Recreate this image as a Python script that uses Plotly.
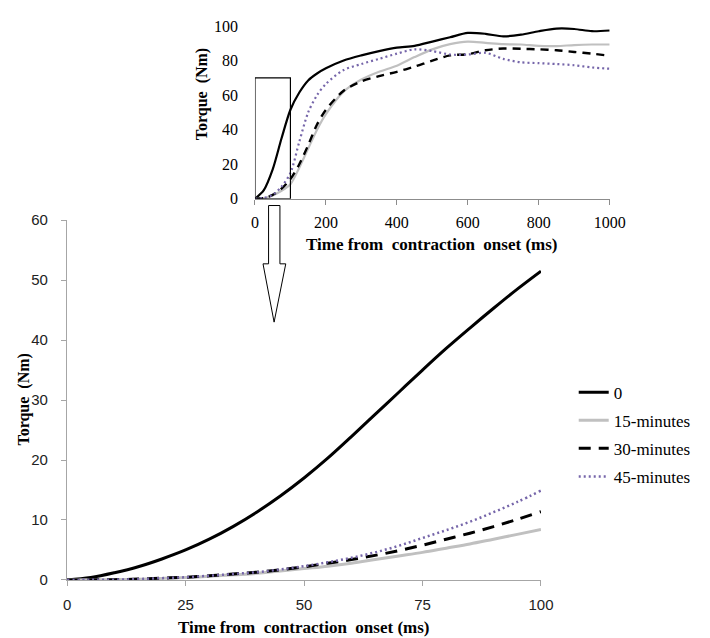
import plotly.graph_objects as go

W, H = 710, 638

# ---------------- data ----------------
series_names = ["0", "15-minutes", "30-minutes", "45-minutes"]

# zoomed panel: first 100 ms
t_zoom = [0, 5, 10, 15, 20, 25, 30, 35, 40, 45, 50, 55, 60, 65, 70, 75, 80, 85, 90, 95, 100]
zoom_0 = [0, 0.4, 1.2, 2.2, 3.5, 5.0, 6.8, 8.9, 11.3, 14.0, 17.0, 20.3, 23.9, 27.6, 31.3, 35.0, 38.6, 42.0, 45.3, 48.5, 51.5]
zoom_15 = [0, 0.02, 0.05, 0.12, 0.25, 0.4, 0.6, 0.85, 1.1, 1.5, 1.9, 2.3, 2.8, 3.4, 4.0, 4.6, 5.3, 6.0, 6.8, 7.6, 8.4]
zoom_30 = [0, 0.02, 0.05, 0.15, 0.3, 0.45, 0.7, 1.0, 1.3, 1.7, 2.2, 2.8, 3.4, 4.1, 4.9, 5.8, 6.8, 7.8, 8.9, 10.1, 11.4]
zoom_45 = [0, 0.02, 0.05, 0.15, 0.3, 0.45, 0.7, 1.0, 1.3, 1.75, 2.3, 2.95, 3.7, 4.6, 5.7, 7.0, 8.3, 9.7, 11.3, 13.0, 14.9]

# inset panel: full 1000 ms
t_full = [0, 25, 50, 75, 100, 125, 150, 175, 200, 250, 300, 350, 400, 450, 500,
          550, 600, 650, 700, 750, 800, 850, 900, 950, 1000]
full_0 = [0, 5.0, 17.0, 35.0, 51.5, 61.5, 68.5, 72.5, 75.5, 80, 83, 85.5, 87.5, 88.5, 91,
          93.5, 96, 95.5, 94, 95, 97, 98.5, 98.3, 97, 97.4]
full_15 = [0, 0.4, 1.9, 4.6, 8.4, 18, 29, 40, 49, 62, 69, 73.5, 77, 82, 86.5,
           89.5, 91, 90.3, 89.5, 89.3, 88.5, 88.4, 89, 89.3, 89.3]
full_30 = [0, 0.45, 2.2, 5.8, 11.4, 20, 31, 43, 51.5, 62.5, 68, 71, 73.5, 76.5, 80,
           83, 83.7, 86, 87, 86.8, 86.5, 86, 85, 84, 82.8]
full_45 = [0, 0.45, 2.3, 7.0, 14.9, 33, 50, 60, 66.5, 74.5, 78, 81, 84, 86.5, 85.5,
           83.5, 83.5, 84.5, 81, 79, 78.5, 78, 77.3, 76, 75.3]

x_ticks_zoom = [0, 25, 50, 75, 100]
y_ticks_zoom = [0, 10, 20, 30, 40, 50, 60]
x_ticks_full = [0, 200, 400, 600, 800, 1000]
y_ticks_full = [0, 20, 40, 60, 80, 100]
box_x = [0, 100]
box_y = [0, 70]

x_title = "Time from \u00a0contraction \u00a0onset (ms)"
y_title = "Torque \u00a0(Nm)"

# ---------------- styles ----------------
styles = [
    dict(color="#000000", width=3, dash="solid"),
    dict(color="#c0c0c0", width=3, dash="solid"),
    dict(color="#000000", width=3, dash="12px,8px"),
    dict(color="#7666aa", width=2.5, dash="2px,3px"),
]
styles_top = [
    dict(color="#000000", width=2.2, dash="solid"),
    dict(color="#c0c0c0", width=2.2, dash="solid"),
    dict(color="#000000", width=2.4, dash="8px,6px"),
    dict(color="#7666aa", width=2.2, dash="2px,3px"),
]

SERIF = "Liberation Serif, Times New Roman, serif"
SANS = "Liberation Sans, Arial, sans-serif"

fig = go.Figure()
zooms = [zoom_0, zoom_15, zoom_30, zoom_45]
fulls = [full_0, full_15, full_30, full_45]
for i, name in enumerate(series_names):
    fig.add_trace(go.Scatter(x=t_zoom, y=zooms[i], mode="lines", name=name,
                             line=dict(shape="spline", **styles[i]),
                             xaxis="x", yaxis="y", legendgroup=name))
for i, name in enumerate(series_names):
    fig.add_trace(go.Scatter(x=t_full, y=fulls[i], mode="lines", name=name,
                             line=dict(shape="spline", smoothing=0.8, **styles_top[i]),
                             xaxis="x2", yaxis="y2", showlegend=False))

def px(x):
    return x / W

def py(y):
    return (H - y) / H

axis_gray = "#a6a6a6"

fig.update_layout(
    width=W, height=H,
    margin=dict(l=0, r=0, t=0, b=0),
    paper_bgcolor="white", plot_bgcolor="rgba(0,0,0,0)",
    xaxis=dict(domain=[px(56.7), px(544.3)], range=[0, 100], tickvals=x_ticks_zoom,
               showgrid=False, zeroline=False, showline=True, linecolor=axis_gray,
               linewidth=1.3, ticks="outside", ticklen=5, tickcolor=axis_gray,
               tickfont=dict(family=SANS, size=15, color="#222"), anchor="y",
               ticklabelstandoff=6),
    yaxis=dict(domain=[py(579.3), py(209)], range=[0, 60], tickvals=y_ticks_zoom,
               showgrid=False, zeroline=False, showline=True, linecolor=axis_gray,
               linewidth=1.3, ticks="outside", ticklen=5, tickcolor=axis_gray,
               tickfont=dict(family=SANS, size=15, color="#222"), anchor="x",
               ticklabelstandoff=10),
    xaxis2=dict(domain=[px(250), px(615)], range=[0, 1000], tickvals=x_ticks_full,
                showgrid=False, zeroline=False, showline=True, linecolor="#8c8c8c",
                linewidth=1.2, ticks="outside", ticklen=5, tickcolor="#8c8c8c",
                tickfont=dict(family=SERIF, size=16, color="#000"), anchor="y2",
                ticklabelstandoff=4),
    yaxis2=dict(domain=[py(187), py(9.3)], range=[0, 100], tickvals=y_ticks_full,
                showgrid=False, zeroline=False, showline=False, ticks="",
                tickfont=dict(family=SERIF, size=16, color="#000"), anchor="x2",
                ticklabelstandoff=16),
    legend=dict(x=px(578), y=py(368), xanchor="left", yanchor="top",
                font=dict(family=SERIF, size=17, color="#000"),
                bgcolor="rgba(0,0,0,0)", traceorder="grouped", tracegroupgap=3,
                itemwidth=30),
    showlegend=True,
)

# axis titles
fig.add_annotation(text="<b>" + x_title + "</b>", xref="paper", yref="paper",
                   x=px(300.5), y=py(628), showarrow=False,
                   xanchor="center", yanchor="middle",
                   font=dict(family=SERIF, size=17, color="#000"))
fig.add_annotation(text="<b>" + y_title + "</b>", xref="paper", yref="paper",
                   x=px(12), y=py(394), showarrow=False, textangle=-90,
                   xanchor="center", yanchor="middle",
                   font=dict(family=SERIF, size=16, color="#000"))
fig.add_annotation(text="<b>" + x_title + "</b>", xref="paper", yref="paper",
                   x=px(432.5), y=py(234), showarrow=False,
                   xanchor="center", yanchor="middle",
                   font=dict(family=SERIF, size=17, color="#000"))
fig.add_annotation(text="<b>" + y_title + "</b>", xref="paper", yref="paper",
                   x=px(195), y=py(80), showarrow=False, textangle=-90,
                   xanchor="center", yanchor="middle",
                   font=dict(family=SERIF, size=16, color="#000"))

# zoom box on the inset
fig.add_shape(type="rect", xref="x2", yref="y2", x0=box_x[0], x1=box_x[1],
              y0=box_y[0], y1=box_y[1], line=dict(color="#000", width=1.2))

# hollow arrow
pts = [(264, 194), (275.7, 194), (275.7, 254), (281.7, 254), (269.7, 314),
       (258.3, 254), (264, 254)]
path = "M " + " L ".join(f"{px(x):.5f},{py(y):.5f}" for x, y in pts) + " Z"
fig.add_shape(type="path", xref="paper", yref="paper", path=path,
              line=dict(color="#000", width=1), fillcolor="white")

fig.write_html("out.html")
